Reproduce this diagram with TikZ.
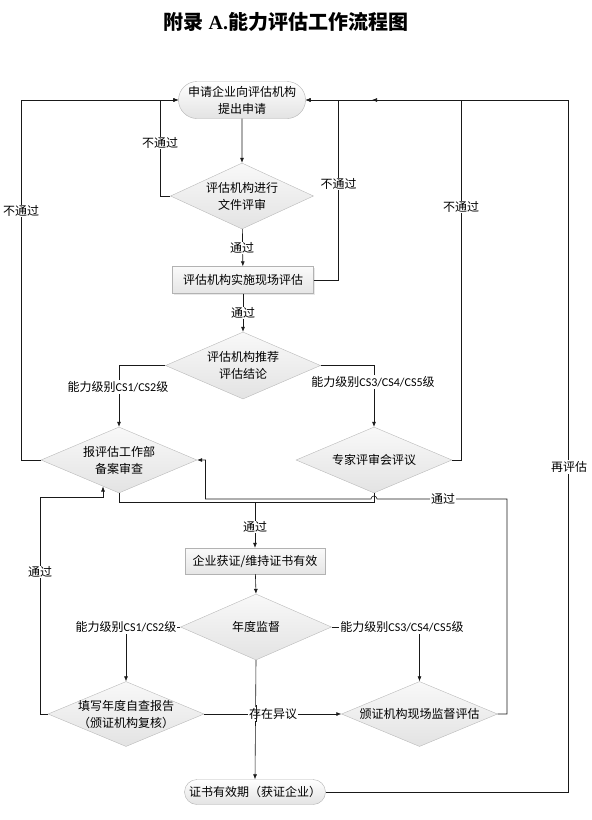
\documentclass[tikz,border=0pt]{standalone}
\usepackage{fontspec}
\setmainfont{Noto Sans CJK SC}
\newfontfamily\lat{Carlito}
\newfontfamily\tnr{Liberation Serif}
\usetikzlibrary{shapes.geometric,shapes.misc,arrows.meta,shadows}

\begin{document}
\begin{tikzpicture}[x=1pt,y=-1pt,
  font=\fontsize{12}{17}\selectfont,
  >={Latex[length=5pt,width=4pt]},
  flow/.style={draw=gray!20!black, line width=0.6pt},
  term/.style={rounded rectangle, draw=gray!60, top color=white, bottom color=gray!22, align=center, inner sep=0pt},
  box/.style={rectangle, draw=gray!60, top color=gray!4, bottom color=gray!20, align=center, inner sep=0pt,
    drop shadow={shadow xshift=1pt, shadow yshift=-1pt, fill=gray!35}},
  dia/.style={diamond, draw=gray!55, top color=gray!5, bottom color=gray!22, inner sep=0pt,
    minimum width=156pt, minimum height=66pt},
  lbl/.style={fill=white, inner sep=1pt}]
\useasboundingbox (0,0) rectangle (592,820);

\node[font=\fontsize{20}{24}\selectfont\bfseries] (title) at (286,22) {附录 {\tnr A.}能力评估工作流程图};

% upper part
\node[term, minimum width=127pt, minimum height=37pt] (apply) at (242,100) {申请企业向评估机构\\提出申请};
\node[dia, minimum width=143pt, label={[align=center]center:评估机构进行\\文件评审}] (docrev) at (242,196) {};
\node[box, minimum width=141pt, minimum height=27pt] (onsite) at (243,280) {评估机构实施现场评估};
\node[dia, minimum width=155pt, minimum height=67pt, label={[align=center]center:评估机构推荐\\评估结论}] (recom) at (243,365.5) {};
\node[dia, label={[align=center]center:报评估工作部\\备案审查}] (filing) at (119,460) {};
\node[dia, label={center:专家评审会评议}] (expert) at (374,460) {};

% lower part
\node[box, minimum width=140pt, minimum height=26pt] (cert) at (255,561) {企业获证/维持证书有效};
\node[dia, minimum width=151pt, label={center:年度监督}] (annual) at (256,627) {};
\node[dia, minimum height=65pt, label={[align=center]center:填写年度自查报告\\（颁证机构复核）}] (selfchk) at (126,714) {};
\node[dia, minimum height=65pt, label={center:颁证机构现场监督评估}] (supv) at (419.5,714) {};
\node[term, minimum width=141pt, minimum height=25pt] (valid) at (255,792) {证书有效期（获证企业）};

\coordinate (merge) at (255,502);
\coordinate (fileIn) at (103,486.5);
\coordinate (topMid) at (372,100);

% main flow
\draw[flow,->] (apply) -- (docrev);
\draw[flow,->] (docrev) -- (onsite);
\draw[flow,->] (onsite) -- (recom);
\draw[flow,->] (recom.west) -| (filing.north);
\draw[flow,->] (recom.east) -| (expert.north);
\draw[flow] (filing.south) -- (filing.south |- merge) -- (expert.south |- merge) -- (expert.south);
\draw[flow,->] (merge) -- (cert);
\draw[flow,->] (cert) -- (annual.north);
\draw[flow,->] (annual.west) -| (selfchk.north);
\draw[flow,->] (annual.east) -| (supv.north);
\draw[flow,->] (selfchk.east) -- (supv.west);
\draw[flow,->] (annual.south) -- (valid.north);

% loops back
\draw[flow,->] (docrev.west) -- (160,196) -- (160,100) -- (apply.west);
\draw[flow,->] (onsite.east) -- (338.5,280) -- (338.5,100) -- (apply.east);
\draw[flow,->] (filing.west) -- (21,460) -- (21,100) -- (apply.west);
\draw[flow,->] (expert.east) -- (461,460) -- (461,100) -- (apply.east);
\draw[flow,->] (valid.east) -- (568,792) -- (568,100) -- (topMid);
\draw[flow,->] (selfchk.west) -- (40,714) -- (40,497) -- (103,497) -- (fileIn);
\draw[flow,->] (supv.east) -- (507,714) -- (507,499) -- (377,499) arc[start angle=0, end angle=180, radius=3pt]
  -- (205.5,499) -- (205.5,460) -- (filing.east);

% labels
\node[lbl] at (160,143) {不通过};
\node[lbl] at (242,248) {通过};
\node[lbl] at (338.5,184) {不通过};
\node[lbl] at (243,313) {通过};
\node[lbl] at (21,211) {不通过};
\node[lbl] at (461,207) {不通过};
\node[lbl] at (118,387) {能力级别{\lat CS1/CS2}级};
\node[lbl] at (373,382) {能力级别{\lat CS3/CS4/CS5}级};
\node[lbl] at (569,467) {再评估};
\node[lbl] at (443,499) {通过};
\node[lbl] at (255,527) {通过};
\node[lbl] at (40,572) {通过};
\node[lbl] at (126,627) {能力级别{\lat CS1/CS2}级};
\node[lbl] at (402,627) {能力级别{\lat CS3/CS4/CS5}级};
\node[lbl] at (273,714) {存在异议};
\draw[flow] (annual.south |- 0,705) -- (annual.south |- 0,722);
\end{tikzpicture}
\end{document}
